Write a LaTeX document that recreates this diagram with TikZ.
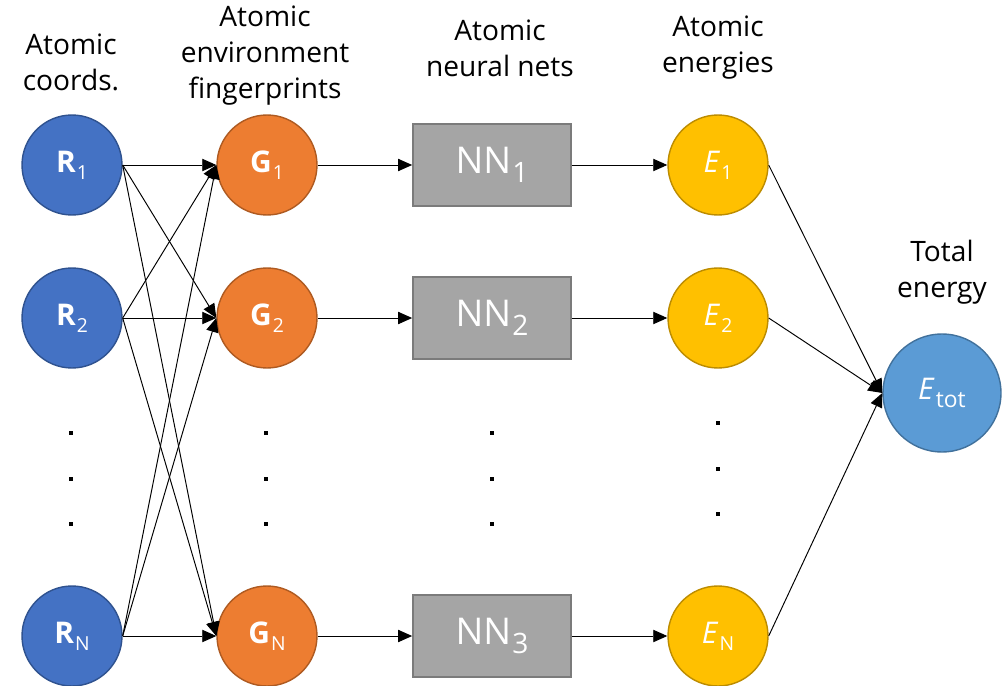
\documentclass[tikz,border=0pt]{standalone}
\usepackage{fontspec}
\setmainfont{Open Sans}
\usetikzlibrary{arrows.meta}

\definecolor{coordfill}{HTML}{4472C4}
\definecolor{coordline}{HTML}{2F528F}
\definecolor{fpfill}{HTML}{ED7D31}
\definecolor{fpline}{HTML}{AE5A21}
\definecolor{netfill}{HTML}{A5A5A5}
\definecolor{netline}{HTML}{7B7B7B}
\definecolor{enfill}{HTML}{FFC000}
\definecolor{enline}{HTML}{BC8C00}
\definecolor{totfill}{HTML}{5B9BD5}
\definecolor{totline}{HTML}{41719C}

% lowered subscript in the upright text font
\newcommand{\lowsub}[2][11]{\kern0.6pt\raisebox{-0.45ex}{\fontsize{#1}{#1}\selectfont #2}}

\begin{document}
\begin{tikzpicture}[x=0.02cm, y=-0.02cm]
        \useasboundingbox (0,0) rectangle (1008,686);
        \def\atomsize{2cm}
        \tikzstyle{atom} = [circle, draw, line width=0.8pt, minimum size=\atomsize, inner sep=0pt, text=white, font=\fontsize{17}{17}\selectfont]
        \tikzstyle{coord} = [atom, fill=coordfill, draw=coordline]
        \tikzstyle{fprint} = [atom, fill=fpfill, draw=fpline]
        \tikzstyle{energy} = [atom, fill=enfill, draw=enline]
        \tikzstyle{total} = [atom, fill=totfill, draw=totline, minimum size=2.36cm]
        \tikzstyle{net} = [rectangle, draw=netline, fill=netfill, line width=1pt, minimum width=3.16cm, minimum height=1.64cm, text=white, font=\fontsize{21}{21}\selectfont]
        \tikzstyle{heading} = [align=center, font=\fontsize{16}{20.5}\selectfont]
        \tikzstyle{link} = [-{Triangle[length=8pt,width=7pt]}, line width=0.55pt]
        % Draw the column headings
        \node[heading] (headR) at (71, 62) {Atomic\\coords.};
        \node[heading] (headG) at (265, 56) {Atomic\\environment\\fingerprints};
        \node[heading] (headNN) at (500, 48) {Atomic\\neural nets};
        \node[heading] (headE) at (718, 48) {Atomic\\energies};
        \node[heading] (headtot) at (942, 272) {Total\\energy};
        % Draw the three rows of atoms, fingerprints, nets and energies
        \foreach \i/\y/\s/\n in {1/165/1/1, 2/318/2/2, n/636/N/3} {
            \node[coord] (R\i) at (72, \y) {\textbf{R}\lowsub{\s}};
            \node[fprint] (G\i) at (267, \y) {\textbf{G}\lowsub{\s}};
            \node[net] (NN\i) at (492, \y) {NN\lowsub[16]{\n}};
            \node[energy] (E\i) at (718, \y) {\textit{E}\lowsub{\s}};
        }
        \node[total] (Etot) at (942, 393) {\textit{E}\lowsub[13]{tot}};
        % Draw the dots between the rows
        \foreach \x/\a in {71/433, 266/433, 492/433, 718/423} {
            \foreach \d in {0, 45.5, 91} {
                \fill (\x-2, \a+\d-2) rectangle (\x+2, \a+\d+2);
            }
        }
        % Connect every atom to every fingerprint
        \foreach \i in {1,2,n} {
            \foreach \j in {1,2,n} {
                \draw[link] (R\i.east) -- (G\j.west);
            }
        }
        % Fingerprint to net to energy, then sum up
        \foreach \i in {1,2,n} {
            \draw[link] (G\i.east) -- (NN\i.west);
            \draw[link] (NN\i.east) -- (E\i.west);
            \draw[link] (E\i.east) -- (Etot.west);
        }
\end{tikzpicture}
\end{document}
